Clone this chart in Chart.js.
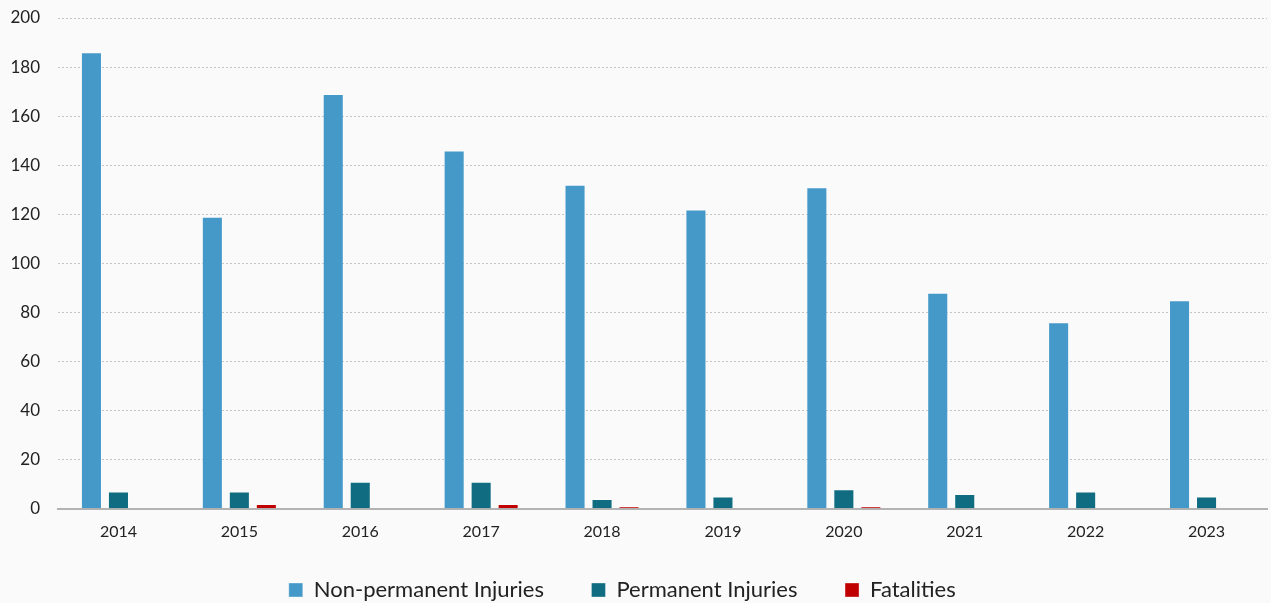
<!DOCTYPE html>
<html>
<head>
<meta charset="utf-8">
<script src="https://cdn.jsdelivr.net/npm/chart.js@4"></script>
<style>
    html, body { margin: 0; padding: 0; background: #fafafa; overflow: hidden; }
    /* a little taller than the window so the legend sits as low as in the reference */
    #wrap { width: 1271px; height: 611px; }
</style>
</head>
<body>
<div id="wrap"><canvas id="injuryChart"></canvas></div>
<script>
// Data
const years = ['2014', '2015', '2016', '2017', '2018', '2019', '2020', '2021', '2022', '2023'];
const nonPermanent = [186, 119, 169, 146, 132, 122, 131, 88, 76, 85];
const permanent = [7, 7, 11, 11, 4, 5, 8, 6, 7, 5];
const fatalities = [0, 2, 0, 2, 1, 0, 1, 0, 0, 0];
const yTicks = [0, 20, 40, 60, 80, 100, 120, 140, 160, 180, 200];

const FONT = 'Lato, sans-serif';

function bar(label, data, color) {
    return {
        label: label,
        data: data,
        backgroundColor: color,
        borderColor: 'rgba(255,255,255,0.35)',
        borderWidth: 1,
        categoryPercentage: 0.67,
        barPercentage: 0.78
    };
}

new Chart(document.getElementById('injuryChart'), {
    type: 'bar',
    data: {
        labels: years,
        datasets: [
            bar('Non-permanent Injuries', nonPermanent, '#4499c9'),
            bar('Permanent Injuries', permanent, '#0f6c81'),
            bar('Fatalities', fatalities, '#c00000')
        ]
    },
    options: {
        responsive: true,
        maintainAspectRatio: false,
        animation: false,
        layout: {
            padding: { top: 0, right: 4, left: 0, bottom: 0 }
        },
        plugins: {
            legend: {
                position: 'bottom',
                labels: {
                    boxWidth: 14,
                    boxHeight: 14,
                    padding: 25,
                    color: '#222',
                    font: { family: FONT, size: 22 },
                    // wider gaps between items than the padding alone gives
                    generateLabels: function (chart) {
                        const items = Chart.defaults.plugins.legend.labels.generateLabels(chart);
                        items.forEach(item => { item.text += '    '; });
                        return items;
                    }
                }
            },
            tooltip: { enabled: false }
        },
        scales: {
            x: {
                grid: { display: false, drawTicks: false },
                border: { color: '#b3b3b3', width: 2 },
                ticks: {
                    padding: 13,
                    color: '#222',
                    font: { family: FONT, size: 16 }
                }
            },
            y: {
                min: 0,
                max: 200,
                afterBuildTicks: function (axis) {
                    axis.ticks = yTicks.map(v => ({ value: v }));
                },
                // pin the plot area edges to where the reference has them
                afterFit: function (axis) {
                    axis.width = 58;
                    axis.paddingTop = 18;
                    axis.paddingBottom = 8;
                },
                grid: {
                    color: '#c4c4c4',
                    lineWidth: 1,
                    drawTicks: false
                },
                border: { display: false, dash: [2, 2] },
                ticks: {
                    padding: 18,
                    color: '#222',
                    font: { family: FONT, size: 17 }
                }
            }
        }
    }
});
</script>
</body>
</html>
